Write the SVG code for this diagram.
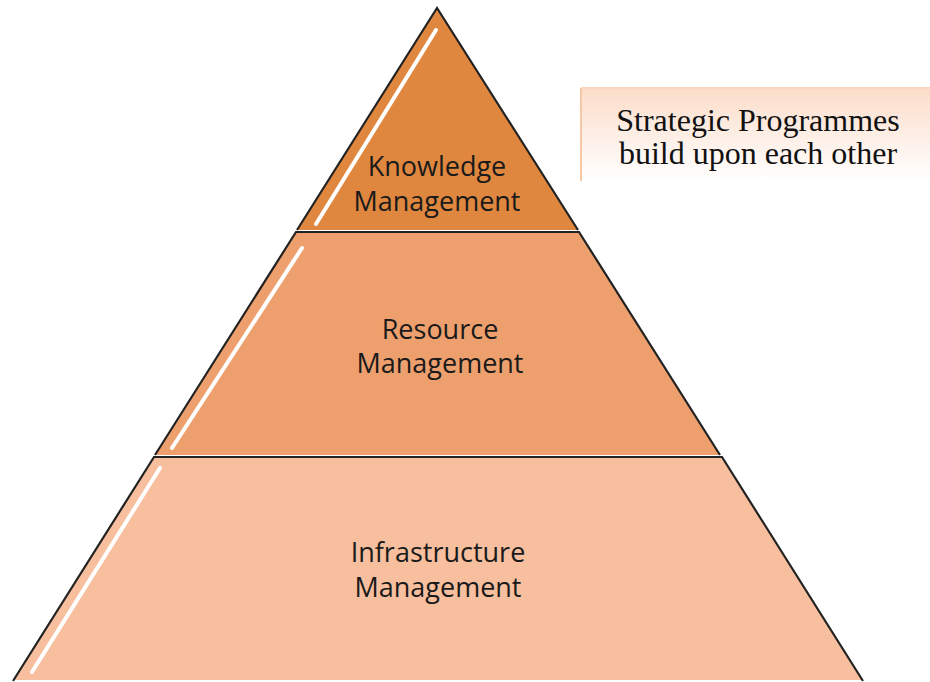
<svg xmlns="http://www.w3.org/2000/svg" width="930" height="682" viewBox="0 0 930 682">
  <defs>
    <linearGradient id="boxGrad" x1="0" y1="0" x2="0" y2="1">
      <stop offset="0" stop-color="#FBDDCA"/>
      <stop offset="1" stop-color="#FFFFFF"/>
    </linearGradient>
    <filter id="soft" x="-20%" y="-20%" width="140%" height="140%">
      <feGaussianBlur stdDeviation="0.7"/>
    </filter>
  </defs>
  <style>
    .edge { fill: none; stroke: #222222; stroke-width: 2.2; stroke-linejoin: miter; }
    .hl { stroke: #FFFFFF; stroke-width: 4; stroke-linecap: round; opacity: 1; }
    .lbl { font-family: "Open Sans", "Liberation Sans", sans-serif; font-size: 27px; fill: #1a1a1a; text-anchor: middle; }
    .note { font-family: "Liberation Serif", "Times New Roman", serif; font-size: 32px; fill: #111111; text-anchor: middle; }
  </style>
  <rect width="930" height="682" fill="#FFFFFF"/>

  <g id="tier-knowledge">
    <polygon points="437,8 578,230 297,230" fill="#E0873F"/>
    <line class="hl" x1="436" y1="30" x2="316" y2="224" filter="url(#soft)"/>
    <polyline class="edge" points="297,230 437,8 578,230"/>
    <text class="lbl" x="437" y="176">Knowledge</text>
    <text class="lbl" x="437" y="211">Management</text>
  </g>

  <g id="tier-resource">
    <polygon points="296,232 579,232 720,455 155,455" fill="#EDA06E"/>
    <line class="hl" x1="302" y1="248" x2="172" y2="448" filter="url(#soft)"/>
    <polyline class="edge" points="155,455 296,232 579,232 720,455"/>
    <text class="lbl" x="440" y="339">Resource</text>
    <text class="lbl" x="440" y="373">Management</text>
  </g>

  <g id="tier-infrastructure">
    <polygon points="154,457 722,457 863,680 13,680" fill="#F7BF9E"/>
    <line class="hl" x1="160" y1="468" x2="32" y2="672" filter="url(#soft)"/>
    <polyline class="edge" points="13,681 154,457 722,457 863,681"/>
    <text class="lbl" x="438" y="562">Infrastructure</text>
    <text class="lbl" x="438" y="597">Management</text>
  </g>

  <g id="note">
    <rect x="580" y="88" width="350" height="93" fill="url(#boxGrad)"/>
    <line x1="581" y1="88" x2="930" y2="88" stroke="#FAD6BE" stroke-width="2"/>
    <line x1="581" y1="88" x2="581" y2="181" stroke="#F6C8A6" stroke-width="2"/>
    <text class="note" x="758" y="131">Strategic Programmes</text>
    <text class="note" x="758" y="164">build upon each other</text>
  </g>

  <g id="connectors"/>
</svg>
